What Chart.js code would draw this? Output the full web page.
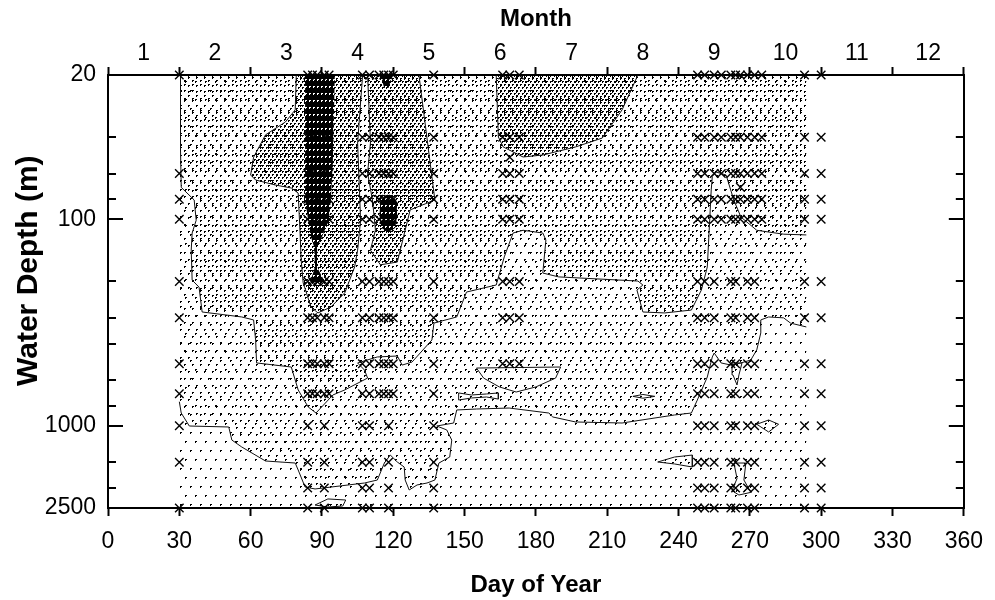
<!DOCTYPE html>
<html>
<head>
<meta charset="utf-8">
<title>Water depth by day of year</title>
<script src="https://cdn.jsdelivr.net/npm/chart.js@4.4.1/dist/chart.umd.min.js"></script>
<style>
  html, body { margin: 0; padding: 0; background: #fff; }
  #wrap { width: 995px; height: 600px; }
</style>
</head>
<body>
<div id="wrap"><canvas id="depthChart" width="995" height="600"></canvas></div>
<script>
// ---- axis values ----
const monthLabels = ['1', '2', '3', '4', '5', '6', '7', '8', '9', '10', '11', '12'];
const depthTicks = [20, 40, 60, 80, 100, 200, 300, 400, 600, 800, 1000, 1500, 2000, 2500];
const depthLabels = [20, 100, 1000, 2500];

// extent of the gridded field (day of year)
const fieldStart = 30;
const fieldEnd = 293.75;

// ---- sampling stations (day, depths in m) ----
const fullCast = [20, 40, 60, 80, 100, 200, 300, 500, 700, 1000, 1500, 2000, 2500];
const upperCast = [20, 40, 60, 80, 100, 200, 300, 500, 700];
const shelfCast = [20, 40, 60, 80, 100, 200, 300, 500];
const topCast = [20, 40, 60, 80, 100];
const firstCast = [20, 60, 80, 100, 200, 300, 500, 700, 1000, 1500, 2500];

const stationDays = [30, 84, 86, 88, 91, 93, 107, 110, 114, 116, 118, 120, 137,
  166, 169, 173, 248, 251, 255, 258, 262, 264, 266, 269, 272, 275, 293, 300];
const stationCasts = [firstCast, fullCast, upperCast, upperCast, fullCast, upperCast,
  fullCast, fullCast, upperCast, upperCast, fullCast, upperCast, fullCast,
  shelfCast, shelfCast, shelfCast, fullCast, fullCast, fullCast, topCast, fullCast,
  fullCast, topCast, fullCast, fullCast, topCast, fullCast, fullCast];
const extraSamples = [[169, 50], [266, 70]];

// ---- contours [day, depth] ----
const deepContour = [[30, 764], [30.8, 867], [34.2, 1002], [50.8, 1013], [52.1, 1172],
  [56.25, 1266], [66.25, 1480], [78.75, 1514], [80, 1637], [82.9, 1978], [87.1, 2022],
  [107.9, 1892], [113.3, 1830], [116.25, 1514], [118.75, 1385], [121.7, 1497],
  [124.6, 1583], [125, 1830], [126.7, 2045], [130, 1934], [134.2, 1892], [137.5, 1830],
  [139.2, 1514], [143.75, 1416], [144.6, 1172], [142.5, 1047], [138.3, 1002],
  [145.4, 969], [146.7, 838], [155, 829], [168.75, 820], [185.4, 867], [187.1, 906],
  [196.7, 958], [216.25, 969], [238.3, 886], [245.4, 867], [247.9, 750], [252.1, 580],
  [254.2, 464], [255, 444], [257.9, 496], [262.1, 508], [266.25, 496], [270.4, 480],
  [272.9, 429], [274.6, 355], [274.6, 307], [277.9, 297], [284.2, 300], [287.1, 318],
  [293.75, 332]];

const midContour = [[30.5, 20], [30.5, 46], [30.8, 70], [36.25, 80.6], [37.1, 101],
  [35.4, 116.5], [35, 141], [35.4, 197], [38.3, 213], [39.6, 281], [56.25, 297],
  [61.25, 307], [62.1, 384], [62.5, 496], [77.1, 519], [80, 670], [84.2, 810],
  [87.5, 867], [94.6, 709], [99.6, 670], [109.2, 587], [107.9, 537], [105, 496],
  [113.3, 464], [121.7, 459], [123.75, 508], [127.9, 491], [136.25, 384], [137.1, 318],
  [146.7, 297], [150.8, 225], [163.3, 208], [166.7, 152], [170.4, 116.5], [174.6, 113],
  [182.9, 116.5], [184.2, 126], [182.9, 182], [189.6, 190], [222.9, 199], [225, 208],
  [222.5, 220], [225, 281], [234.2, 284], [245.4, 275], [249.6, 220], [252.1, 170],
  [253.75, 72], [254.2, 62], [255.8, 59], [260, 61], [263.3, 81], [266.25, 97.5],
  [272.9, 113], [284.2, 118], [293.75, 119]];

const highMarch = [[79.2, 20], [78.75, 29.5], [74.6, 33.8], [66.25, 39], [61.25, 50],
  [60, 61], [62.1, 64.5], [70.4, 68.2], [77.1, 70.5], [80, 74.6], [80.8, 116.5],
  [81.25, 157], [82.1, 203], [85.4, 266], [88.3, 284], [93.75, 266], [99.6, 227],
  [103.75, 170], [105, 141], [106.25, 101], [105, 42.7], [107.1, 20]];
const highApril = [[109.2, 20], [110.4, 42.7], [109.2, 59.7], [111.25, 80.6],
  [112.5, 112.7], [110.4, 141], [114.6, 166], [121.7, 161], [127.1, 90], [137.5, 80.6],
  [130.8, 20]];
const highJuly = [[163.3, 20], [164.2, 39.9], [166.25, 44.6], [174.6, 49.9],
  [182.9, 48.8], [196.7, 44.6], [207.9, 40.4], [216.25, 29.5], [222.9, 20]];

const peakMarch = [[82.9, 20], [95.4, 20], [94.6, 51.6], [93.75, 80.6], [92.9, 100.8],
  [90, 121.8], [88, 136], [87.9, 170], [91.25, 201], [85, 201], [87.1, 170],
  [86.7, 136], [85.4, 121.8], [84.2, 100.8], [82.9, 80.6], [82.9, 51.6]];
const peakApril = [[114.6, 80.6], [116.25, 77.1], [119.6, 77.1], [121.25, 80.6],
  [121.7, 95.3], [120.8, 110.2], [117.9, 115.2], [115, 110.2], [114.2, 95.3]];
const peakAprilTop = [[114.6, 20], [119.6, 20], [118, 23.1], [116.2, 23.1]];

const upperIslands = [
  [[155, 525], [190.4, 519], [188.3, 587], [180, 648], [171.7, 686], [164.6, 648], [158, 587], [155, 525]],
  [[147.5, 693], [152.9, 709], [159.2, 701], [164.2, 693], [164.2, 742], [159.2, 725], [152.9, 733], [147.5, 750], [147.5, 693]],
  [[220.8, 720], [225, 705], [230, 720], [225, 735], [220.8, 720]]
];
const lowerIslands = [
  [[87.1, 2418], [92.5, 2260], [100, 2287], [98.75, 2445], [92.5, 2473], [87.1, 2418]],
  [[262.5, 496], [266.7, 496], [265.4, 567], [264.6, 634], [262.9, 567], [262.5, 496]],
  [[272.9, 983], [277.9, 937], [282.1, 983], [277.9, 1071], [272.9, 983]],
  [[231.25, 1497], [238.3, 1416], [245.8, 1385], [245.8, 1583], [238.3, 1530], [231.25, 1497]],
  [[263.3, 1514], [268.3, 1514], [267.5, 1830], [270.4, 2100], [265.4, 2163], [262.5, 2060], [264.6, 1800], [263.3, 1514]]
];

// ---- stipple patterns ----
// each dot is a small 3-pixel "L", like the printed stipple
function dotPattern(w, h, dots, bg, fg) {
    const c = document.createElement('canvas');
    c.width = w;
    c.height = h;
    const g = c.getContext('2d');
    if (bg) {
        g.fillStyle = bg;
        g.fillRect(0, 0, w, h);
    }
    g.fillStyle = fg;
    dots.forEach(([x, y]) => {
        g.fillRect(x, y, 2, 1);
        g.fillRect(x, y + 1, 1, 1);
    });
    return g.createPattern(c, 'repeat');
}

const stipple0 = dotPattern(10, 18, [[0, 0], [5, 9]], null, '#000');
const stipple1 = dotPattern(8, 14, [[0, 0], [4, 7]], null, '#000');
const stipple2 = dotPattern(8, 10, [[0, 0], [4, 5]], null, '#000');
const stipple3 = dotPattern(4, 6, [[0, 0], [2, 3]], null, '#000');
const stipple4 = dotPattern(4, 7, [[1, 2]], '#000', '#fff');

const lineColor = '#111';
const pts = arr => arr.map(([x, y]) => ({ x, y }));

function region(points, pattern, order, stroke) {
    return {
        data: pts(points),
        fill: 'shape',
        backgroundColor: pattern,
        borderColor: stroke ? lineColor : 'rgba(0,0,0,0)',
        borderWidth: stroke ? 1 : 0,
        pointRadius: 0,
        tension: 0,
        order: order
    };
}

function contourLine(points, order) {
    return {
        data: pts(points),
        fill: false,
        borderColor: lineColor,
        borderWidth: 1,
        pointRadius: 0,
        tension: 0,
        order: order
    };
}

const samplePoints = stationDays
    .flatMap((d, i) => stationCasts[i].map(z => [d, z]))
    .concat(extraSamples);

const datasets = [
    region([[fieldStart, 20], [fieldEnd, 20], [fieldEnd, 2500], [fieldStart, 2500]], stipple0, 30, false),
    region([[fieldStart, 20], [fieldEnd, 20]].concat(deepContour.slice().reverse()), stipple1, 29, false),
    contourLine(deepContour, 28),
    ...upperIslands.map(p => region(p, stipple0, 27, true)),
    ...lowerIslands.map(p => region(p, stipple1, 27, true)),
    region(midContour.concat([[fieldEnd, 20]]), stipple2, 26, false),
    contourLine(midContour, 25),
    region(highMarch, stipple3, 24, true),
    region(highApril, stipple3, 24, true),
    region(highJuly, stipple3, 24, true),
    region(peakMarch, stipple4, 23, false),
    region(peakApril, stipple4, 23, false),
    region(peakAprilTop, stipple4, 23, false),
    {
        data: pts(samplePoints),
        showLine: false,
        pointStyle: 'crossRot',
        pointRadius: 6,
        pointBorderWidth: 1.4,
        pointBorderColor: '#000',
        pointBackgroundColor: '#000',
        clip: false,
        order: 1
    }
];

// inward tick marks on the left and right frame
const innerTicks = {
    id: 'innerTicks',
    afterDraw(chart) {
        const { ctx, chartArea } = chart;
        const yScale = chart.scales.y;
        ctx.save();
        ctx.strokeStyle = '#000';
        ctx.lineWidth = 2;
        depthTicks.forEach(v => {
            const py = Math.round(yScale.getPixelForValue(v));
            const len = depthLabels.includes(v) ? 15 : 8;
            ctx.beginPath();
            ctx.moveTo(chartArea.left, py);
            ctx.lineTo(chartArea.left + len, py);
            ctx.moveTo(chartArea.right, py);
            ctx.lineTo(chartArea.right - len, py);
            ctx.stroke();
        });
        ctx.restore();
    }
};

const tickFont = { family: "'Liberation Sans', Arial, sans-serif", size: 23 };
const titleFont = { family: "'Liberation Sans', Arial, sans-serif", size: 24, weight: 'bold' };
const yTitleFont = { family: "'Liberation Sans', Arial, sans-serif", size: 30, weight: 'bold' };

new Chart(document.getElementById('depthChart'), {
    type: 'line',
    data: { datasets: datasets },
    plugins: [innerTicks],
    options: {
        responsive: false,
        animation: false,
        events: [],
        layout: { padding: 0, autoPadding: false },
        plugins: {
            legend: { display: false },
            tooltip: { enabled: false }
        },
        scales: {
            x: {
                type: 'linear',
                position: 'bottom',
                min: 0,
                max: 360,
                afterFit: s => { s.height = 92; },
                ticks: { stepSize: 30, autoSkip: false, maxRotation: 0, padding: 12, color: '#000', font: tickFont },
                grid: { drawOnChartArea: false, tickLength: 8, tickWidth: 2, tickColor: '#000' },
                border: { color: '#000', width: 2 },
                title: { display: true, text: 'Day of Year', color: '#000', font: titleFont, padding: { top: 0, bottom: 0 } }
            },
            x2: {
                type: 'linear',
                position: 'top',
                min: 0,
                max: 360,
                afterFit: s => { s.height = 75; },
                ticks: {
                    stepSize: 15,
                    autoSkip: false,
                    maxRotation: 0,
                    padding: 0,
                    color: '#000',
                    font: tickFont,
                    callback: v => (v % 30 === 15 ? monthLabels[(v - 15) / 30] : '')
                },
                grid: {
                    drawOnChartArea: false,
                    tickLength: 8,
                    tickWidth: 2,
                    tickColor: c => (c.tick && c.tick.value % 30 === 0 ? '#000' : 'rgba(0,0,0,0)')
                },
                border: { color: '#000', width: 2 },
                title: { display: true, text: 'Month', color: '#000', font: titleFont, padding: { top: 5, bottom: 0 } }
            },
            y: {
                type: 'logarithmic',
                position: 'left',
                reverse: true,
                min: 20,
                max: 2500,
                afterFit: s => { s.width = 108; },
                afterBuildTicks: s => { s.ticks = depthTicks.map(v => ({ value: v })); },
                ticks: {
                    autoSkip: false,
                    padding: 12,
                    color: '#000',
                    font: tickFont,
                    callback: v => (depthLabels.includes(v) ? String(v) : '')
                },
                grid: { display: false, drawTicks: false },
                border: { color: '#000', width: 2 },
                // leading no-break spaces lift the label a little, as in the original
                title: { display: true, text: '\u00A0\u00A0\u00A0\u00A0\u00A0Water Depth (m)', color: '#000', font: yTitleFont, padding: { top: 11, bottom: 0 } }
            },
            yR: {
                type: 'logarithmic',
                position: 'right',
                reverse: true,
                min: 20,
                max: 2500,
                afterFit: s => { s.width = 23; },
                ticks: { display: false },
                grid: { display: false, drawTicks: false },
                border: { color: '#000', width: 2 }
            }
        }
    }
});
</script>
</body>
</html>
